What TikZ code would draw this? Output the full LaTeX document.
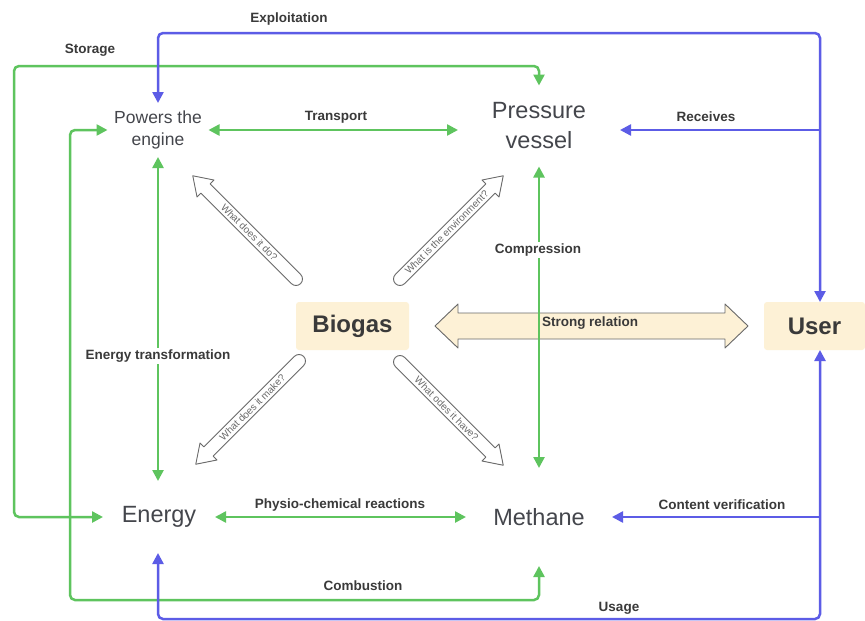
\documentclass[tikz,border=0pt]{standalone}
\usepackage{fontspec}
\setmainfont{Liberation Sans}
\usetikzlibrary{arrows.meta,calc}
\definecolor{lgreen}{RGB}{94,196,94}
\definecolor{lblue}{RGB}{92,92,230}
\definecolor{beige}{RGB}{253,241,214}
\definecolor{txt}{RGB}{58,58,58}
\definecolor{ntxt}{RGB}{68,70,76}
\definecolor{agray}{RGB}{105,105,105}
\newcommand\qarrow[5]{%
  \begin{scope}[shift={#2},rotate=#3]
    \draw[hollow] (0,6.5) -- (128,6.5) -- (128,12) -- (146,0) -- (128,-12) -- (128,-6.5) -- (0,-6.5) arc[start angle=-90,end angle=-270,radius=6.5] -- cycle;
    \node[qtext,transform shape,rotate=#5] (#1) at (66,0) {#4};
  \end{scope}}
\begin{document}
\begin{tikzpicture}[x=1pt,y=1pt,
  >={Triangle[length=11pt,width=11pt]},
  gline/.style={draw=lgreen,line width=2.5pt,rounded corners=5pt},
  bline/.style={draw=lblue,line width=2.5pt,rounded corners=5pt},
  lbl/.style={font=\bfseries\fontsize{13.5}{16}\selectfont,text=txt,inner sep=2pt},
  wlbl/.style={lbl,fill=white},
  mainnode/.style={inner sep=0pt,outer sep=0pt,align=center,text=ntxt,font=\fontsize{23.5}{30}\selectfont},
  keybox/.style={inner sep=0pt,outer sep=0pt,fill=beige,rounded corners=3pt,text=txt,font=\bfseries\fontsize{24}{28}\selectfont},
  hollow/.style={draw=agray,fill=white,line width=0.9pt,line join=round},
  qtext/.style={inner sep=0pt,text=agray,font=\fontsize{10}{12}\selectfont},
]
\useasboundingbox (0,0) rectangle (865,-621);
\fill[white] (0,0) rectangle (865,-621);

% main nodes
\node[mainnode,minimum width=101,minimum height=54,font=\fontsize{17.5}{22}\selectfont] (pow) at (158,-130) {Powers the\\engine};
\node[mainnode,minimum width=162,minimum height=81] (pv) at (539,-126) {Pressure\\vessel};
\node[mainnode,minimum width=112,minimum height=72] (en) at (159,-517) {Energy};
\node[mainnode,minimum width=146,minimum height=98] (me) at (539,-517) {Methane};
\node[keybox,minimum width=113,minimum height=48] (bio) at (352.5,-326) {Biogas};
\node[keybox,minimum width=101,minimum height=48] (user) at (814.5,-326) {User};

% strong relation double arrow
\coordinate (sl) at (435,-326);
\coordinate (sr) at (748,-326);
\draw[draw=agray,fill=beige,line width=0.9pt,line join=round]
  (sl) -- ++(23,22) -- ++(0,-9) -- ($(sr)+(-23,13)$) -- ++(0,9) -- (sr)
  -- ++(-23,-22) -- ++(0,9) -- ($(sl)+(23,-13)$) -- ++(0,-9) -- cycle;
\node[lbl] (rel) at (590,-323) {Strong relation};

% hollow question arrows
\qarrow{q1}{(296,-279)}{135}{What does it do?}{180}
\qarrow{q2}{(400,-279)}{45}{What is the environment?}{0}
\qarrow{q3}{(299,-361)}{225}{What does it make?}{180}
\qarrow{q4}{(400,-362)}{-45}{What odes it have?}{0}

% green connectors
\draw[gline,<->] (pv.north) |- (14,-66) |- (en.west);
\draw[gline,<->] (pow.west) -| (70,-600) -| (me.south);
\draw[gline,<->] (pow.east) -- (pow.east -| pv.west);
\draw[gline,<->] (pow.south) -- (pow.south |- en.north);
\draw[gline,<->] (pv.south) -- (pv.south |- me.north);
\draw[gline,<->] (en.east) -- (me.west);

% blue connectors
\coordinate (rcv) at (820,-130);
\coordinate (cnt) at (820,-517);
\draw[bline,<->] (pow.north) |- (820,-33) -- (820,0 |- user.north);
\draw[bline,->] (rcv) -- (rcv -| pv.east);
\draw[bline,<->] (820,0 |- user.south) |- (158,-619) -- (158,0 |- en.south);
\draw[bline,->] (cnt) -- (me.east);

% labels
\node[lbl] (l1) at (289,-19) {Exploitation};
\node[lbl] (l2) at (90,-50) {Storage};
\node[lbl] (l3) at (336,-117) {Transport};
\node[lbl] (l4) at (706,-117) {Receives};
\node[wlbl] (l5) at (538,-250) {Compression};
\node[wlbl] (l6) at (158,-356) {Energy transformation};
\node[lbl] (l7) at (340,-505) {Physio-chemical reactions};
\node[lbl] (l8) at (722,-505) {Content verification};
\node[lbl] (l9) at (363,-586) {Combustion};
\node[lbl] (l10) at (619,-608) {Usage};
\end{tikzpicture}
\end{document}
